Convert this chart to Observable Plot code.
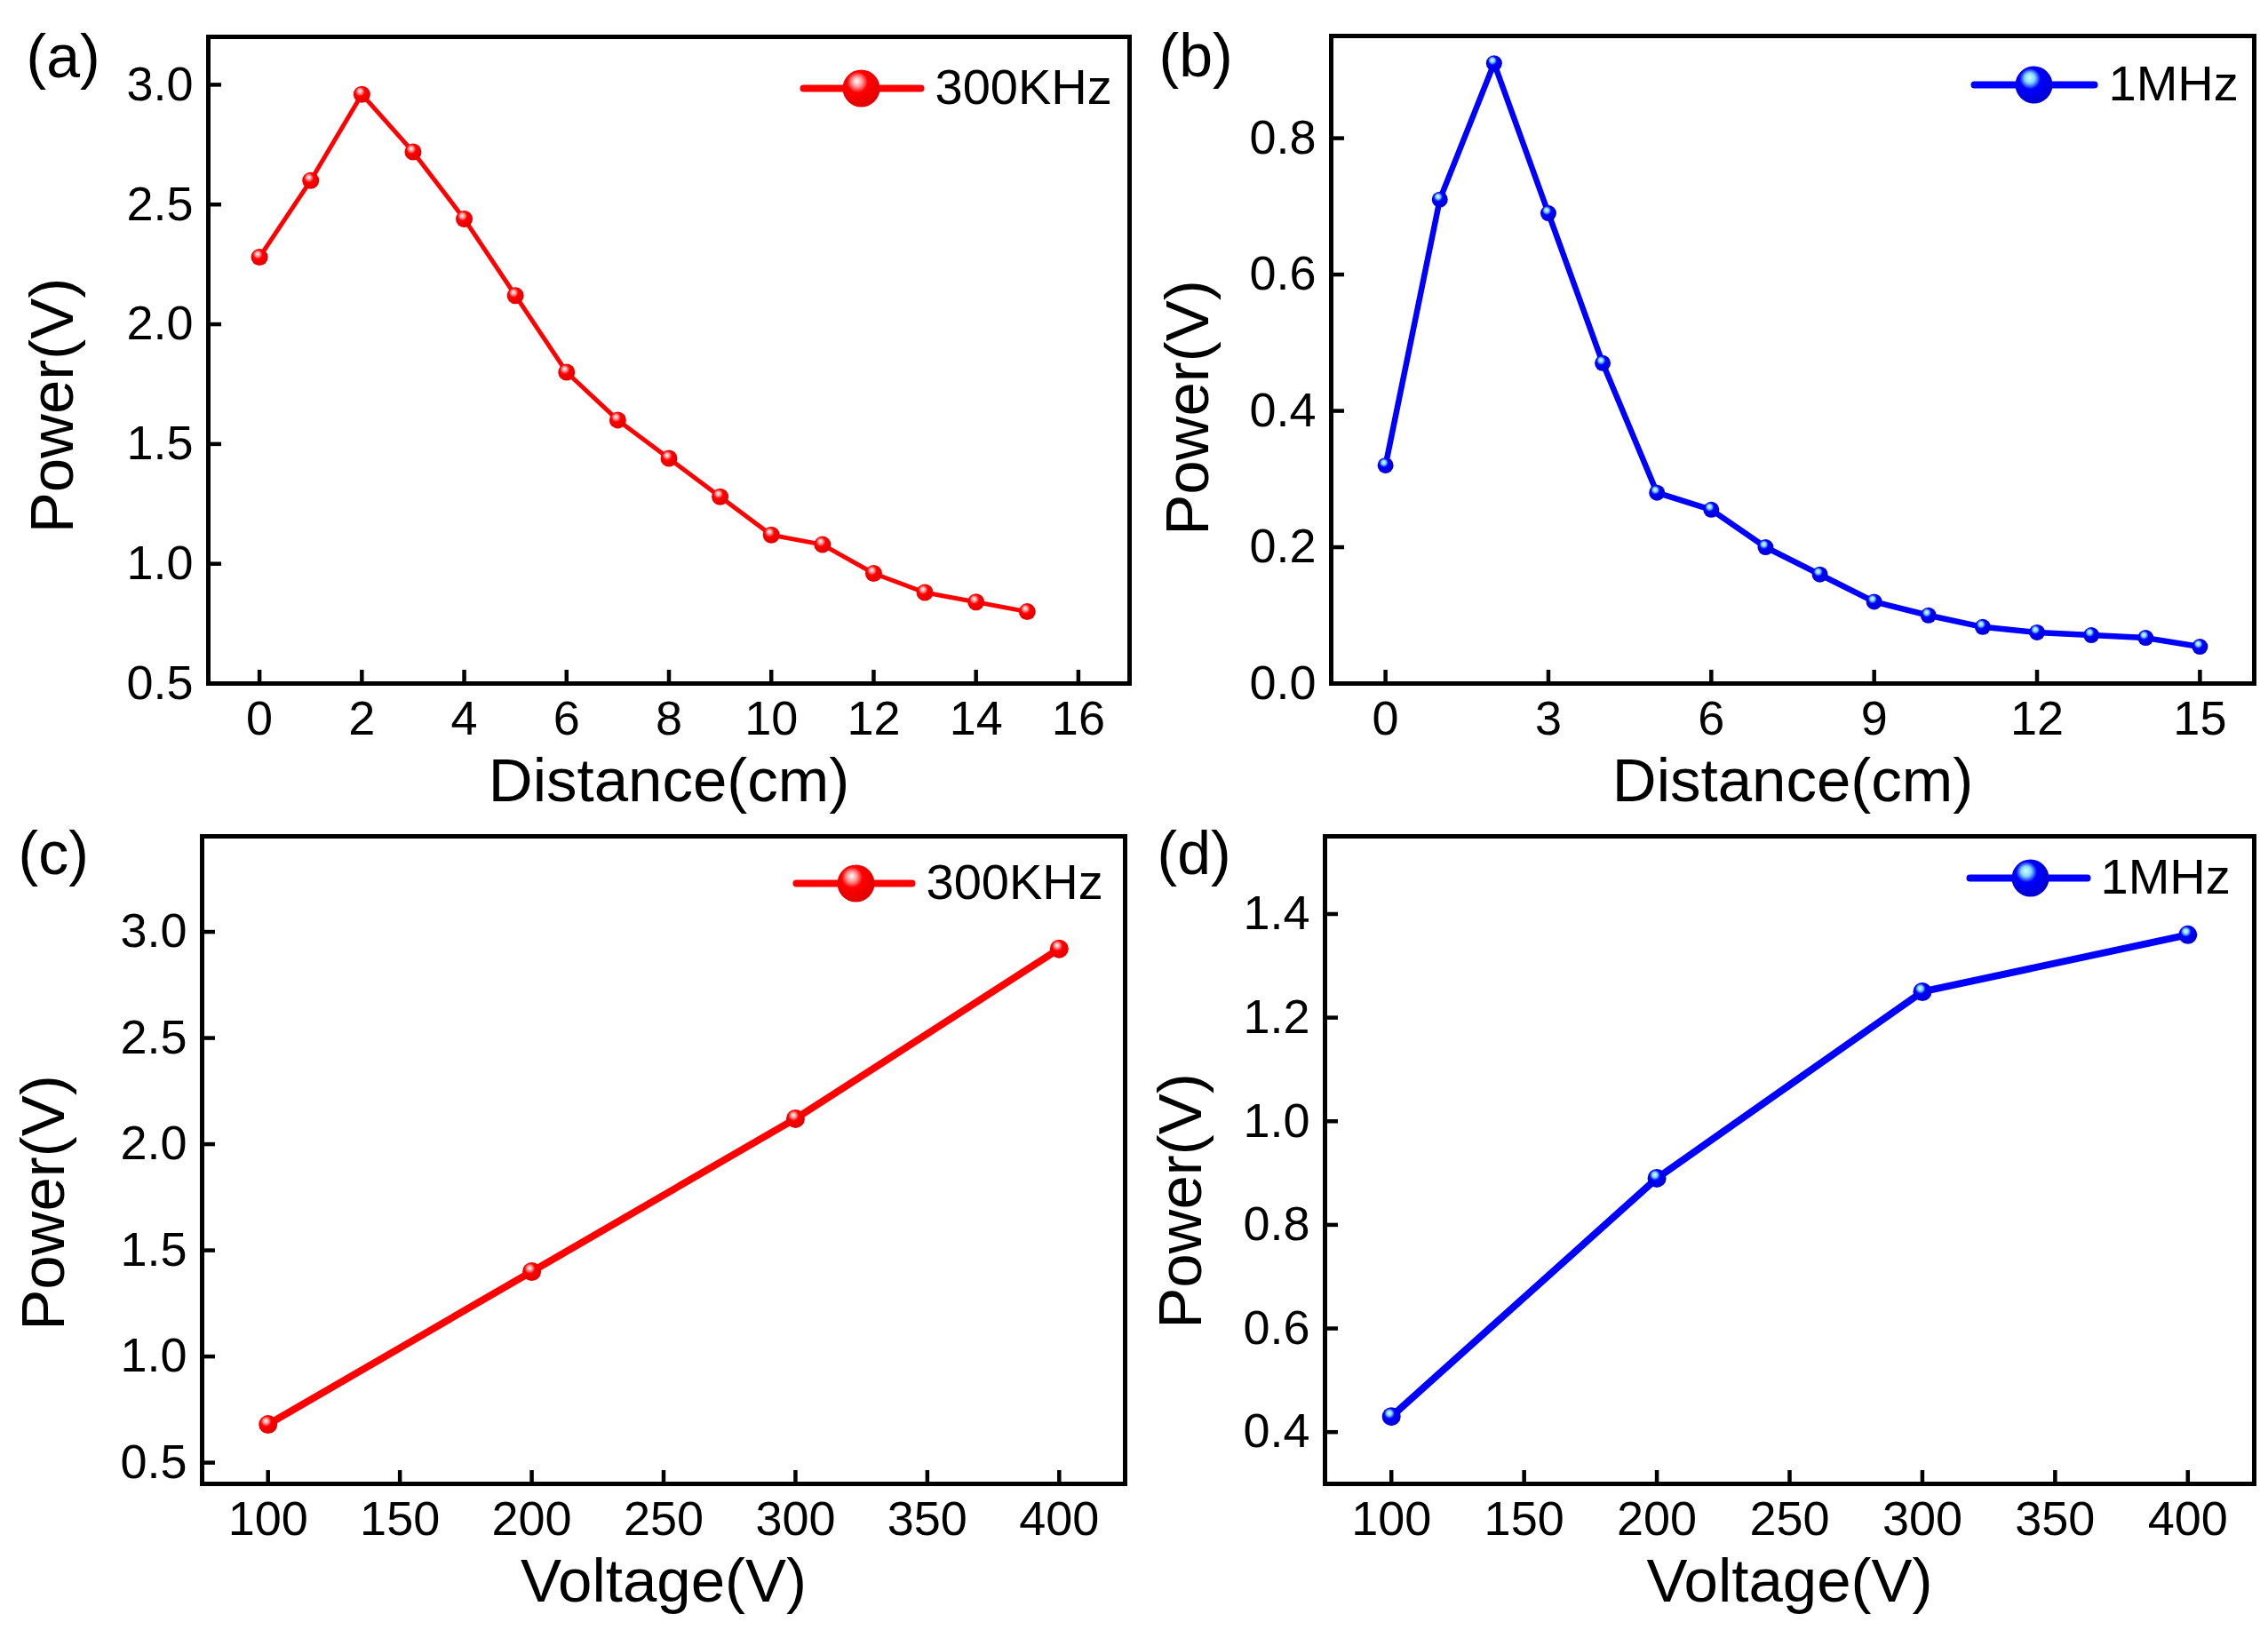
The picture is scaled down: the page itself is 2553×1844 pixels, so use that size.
<!DOCTYPE html>
<html>
<head>
<meta charset="utf-8">
<script src="https://cdn.jsdelivr.net/npm/d3@7"></script>
<script src="https://cdn.jsdelivr.net/npm/@observablehq/plot@0.6"></script>
<style>
  html, body { margin: 0; padding: 0; background: #fff; }
  #wrap { position: relative; width: 2553px; height: 1844px; background: #fff; }
  .panel { position: absolute; }
</style>
</head>
<body>
<div id="wrap"></div>
<script>
// ---------- data ----------
const distance = [0, 1, 2, 3, 4, 5, 6, 7, 8, 9, 10, 11, 12, 13, 14, 15];
const power300kDist = [2.28, 2.60, 2.96, 2.72, 2.44, 2.12, 1.80, 1.60, 1.44, 1.28, 1.12, 1.08, 0.96, 0.88, 0.84, 0.80];
const power1MDist = [0.32, 0.71, 0.91, 0.69, 0.47, 0.28, 0.255, 0.20, 0.16, 0.12, 0.10, 0.083, 0.075, 0.071, 0.067, 0.054];
const voltage = [100, 200, 300, 400];
const power300kVolt = [0.68, 1.40, 2.12, 2.92];
const power1MVolt = [0.43, 0.89, 1.25, 1.36];

const ticksDistA = [0, 2, 4, 6, 8, 10, 12, 14, 16];
const ticksDistB = [0, 3, 6, 9, 12, 15];
const ticksVolt = [100, 150, 200, 250, 300, 350, 400];
const ticksPowA = [0.5, 1.0, 1.5, 2.0, 2.5, 3.0];
const ticksPowB = [0.0, 0.2, 0.4, 0.6, 0.8];
const ticksPowC = [0.5, 1.0, 1.5, 2.0, 2.5, 3.0];
const ticksPowD = [0.4, 0.6, 0.8, 1.0, 1.2, 1.4];

const seriesNames = ["300KHz", "1MHz"];
const panelLabels = ["(a)", "(b)", "(c)", "(d)"];
const xTitles = ["Distance(cm)", "Voltage(V)"];
const yTitle = "Power(V)";

const RED = "#ff0000";
const BLUE = "#0000ff";
const FONT = "'Liberation Sans', Arial, Helvetica, sans-serif";

function rows(xs, ys) { return xs.map((x, i) => ({x, y: ys[i]})); }

function panel(cfg) {
  const data = rows(cfg.xs, cfg.ys);
  const fill = `url(#${cfg.gradId})`;
  const svg = Plot.plot({
    width: cfg.width,
    height: cfg.height,
    marginLeft: cfg.mL, marginRight: cfg.mR, marginTop: cfg.mT, marginBottom: cfg.mB,
    style: {fontFamily: FONT, fontSize: "54px", color: "#000", background: "transparent", overflow: "visible"},
    x: {domain: cfg.xDomain},
    y: {domain: cfg.yDomain},
    marks: [
      Plot.frame({stroke: "#000", strokeWidth: 5}),
      Plot.line(data, {x: "x", y: "y", stroke: cfg.color, strokeWidth: cfg.lw, strokeLinejoin: "round", strokeLinecap: "round"}),
      Plot.dot(data, {x: "x", y: "y", r: cfg.r, fill: fill, stroke: "none"}),
      Plot.axisX({ticks: cfg.xTicks, tickSize: -15, tickPadding: 34, strokeWidth: 4.5, fontSize: 54, label: null, tickFormat: d3.format("d")}),
      Plot.axisY({ticks: cfg.yTicks, tickSize: -15, tickPadding: 32, strokeWidth: 4.5, fontSize: 54, label: null, tickFormat: d3.format(".1f")}),
      // axis titles
      Plot.text([cfg.xTitle], {text: d => d, frameAnchor: "bottom", lineAnchor: "middle", textAnchor: "middle", dy: cfg.xtDy, fontSize: 69, fill: "#000"}),
      Plot.text([yTitle], {text: d => d, frameAnchor: "left", lineAnchor: "middle", textAnchor: "middle", rotate: -90, dx: cfg.ytDx, dy: cfg.ytDy, fontSize: 69, fill: "#000"}),
      // panel label
      Plot.text([cfg.label], {text: d => d, frameAnchor: "top-left", lineAnchor: "middle", textAnchor: "start", dx: cfg.lbDx, dy: cfg.lbDy, fontSize: 68, fill: "#000"}),
      // legend
      Plot.vector([cfg.legend], {frameAnchor: "top-right", dx: cfg.lgLineDx, dy: cfg.lgDy, length: cfg.lgLen, rotate: 90, anchor: "start",
        stroke: cfg.color, strokeWidth: 8, strokeLinecap: "round",
        shape: {draw(context, l) { context.moveTo(0, 0); context.lineTo(0, -l); }}}),
      Plot.dot([cfg.legend], {frameAnchor: "top-right", dx: cfg.lgDotDx, dy: cfg.lgDy, r: 21, fill: fill, stroke: "none"}),
      Plot.text([cfg.legend], {text: d => d, frameAnchor: "top-right", lineAnchor: "middle", textAnchor: "start", dx: cfg.lgTextDx, dy: cfg.lgDy, fontSize: 56, fill: "#000"})
    ]
  });
  // sphere-like gradient for markers
  const defs = d3.select(svg).insert("defs", ":first-child");
  const g = defs.append("radialGradient").attr("id", cfg.gradId)
    .attr("cx", "0.42").attr("cy", "0.38").attr("r", "0.62").attr("fx", "0.38").attr("fy", "0.3");
  g.append("stop").attr("offset", "0%").attr("stop-color", cfg.hi);
  g.append("stop").attr("offset", "22%").attr("stop-color", cfg.mid);
  g.append("stop").attr("offset", "45%").attr("stop-color", cfg.color);
  g.append("stop").attr("offset", "100%").attr("stop-color", cfg.dark);
  svg.classList.add("panel");
  svg.style.left = cfg.left + "px";
  svg.style.top = cfg.top + "px";
  document.getElementById("wrap").appendChild(svg);
}

// (a)
panel({
  left: 0, top: 0, width: 1276, height: 920, mL: 234, mR: 5, mT: 41, mB: 151,
  xDomain: [-1, 17], yDomain: [0.5, 3.2], xTicks: ticksDistA, yTicks: ticksPowA,
  xs: distance, ys: power300kDist, color: RED, hi: "#ffffff", mid: "#ff9a9a", dark: "#e00000", gradId: "sphA",
  lw: 5, r: 9.5, xTitle: xTitles[0], xtDy: 110, ytDx: -175, ytDy: 51,
  label: panelLabels[0], lbDx: -205, lbDy: 24,
  legend: seriesNames[0], lgLineDx: -367, lgLen: 132, lgDotDx: -302, lgTextDx: -219, lgDy: 58
});
// (b)
panel({
  left: 1276, top: 0, width: 1277, height: 920, mL: 222, mR: 16, mT: 40, mB: 151,
  xDomain: [-1, 16], yDomain: [0, 0.95], xTicks: ticksDistB, yTicks: ticksPowB,
  xs: distance, ys: power1MDist, color: BLUE, hi: "#d8ffff", mid: "#7fd8ff", dark: "#0000d0", gradId: "sphB",
  lw: 6.5, r: 9, xTitle: xTitles[0], xtDy: 110, ytDx: -161, ytDy: 54,
  label: panelLabels[1], lbDx: -194, lbDy: 24,
  legend: seriesNames[1], lgLineDx: -315, lgLen: 135, lgDotDx: -248, lgTextDx: -164, lgDy: 55
});
// (c)
panel({
  left: 0, top: 920, width: 1276, height: 924, mL: 227, mR: 10, mT: 21, mB: 174,
  xDomain: [75, 425], yDomain: [0.4, 3.45], xTicks: ticksVolt, yTicks: ticksPowC,
  xs: voltage, ys: power300kVolt, color: RED, hi: "#ffffff", mid: "#ff9a9a", dark: "#e00000", gradId: "sphC",
  lw: 8, r: 10.5, xTitle: xTitles[1], xtDy: 110, ytDx: -178, ytDy: 48,
  label: panelLabels[2], lbDx: -207, lbDy: 21,
  legend: seriesNames[0], lgLineDx: -370, lgLen: 130, lgDotDx: -303, lgTextDx: -224, lgDy: 53
});
// (d)
panel({
  left: 1276, top: 920, width: 1277, height: 924, mL: 215, mR: 16, mT: 21, mB: 174,
  xDomain: [75, 425], yDomain: [0.3, 1.55], xTicks: ticksVolt, yTicks: ticksPowD,
  xs: voltage, ys: power1MVolt, color: BLUE, hi: "#d8ffff", mid: "#7fd8ff", dark: "#0000d0", gradId: "sphD",
  lw: 8, r: 10.5, xTitle: xTitles[1], xtDy: 110, ytDx: -162, ytDy: 46,
  label: panelLabels[3], lbDx: -189, lbDy: 21,
  legend: seriesNames[1], lgLineDx: -320, lgLen: 132, lgDotDx: -252, lgTextDx: -173, lgDy: 47
});
</script>
</body>
</html>
